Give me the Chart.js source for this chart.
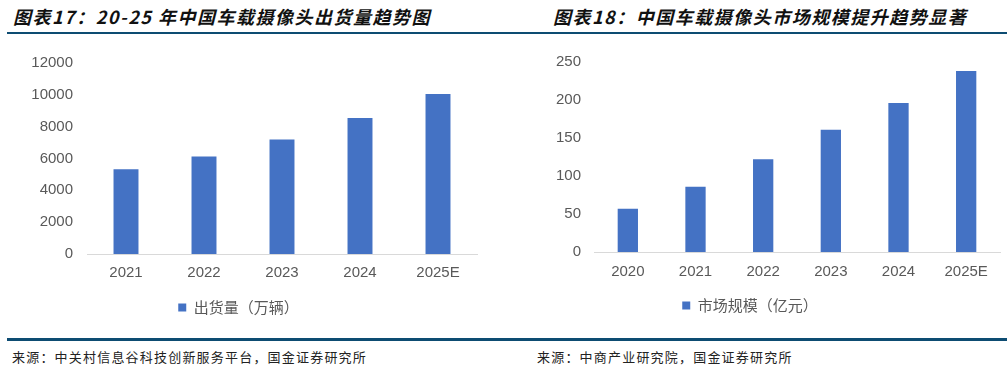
<!DOCTYPE html>
<html>
<head>
<meta charset="utf-8">
<script src="https://cdn.jsdelivr.net/npm/chart.js@4/dist/chart.umd.min.js"></script>
<style>
  html, body { margin:0; padding:0; background:#fff; }
  body { width:1007px; height:368px; position:relative; overflow:hidden; font-family:"Noto Sans CJK SC", sans-serif; }
  .title { position:absolute; top:4px; font-size:18px; font-weight:bold; font-style:italic; letter-spacing:1.5px; color:#111; white-space:nowrap; line-height:24px; }
  .rule { position:absolute; background:#0d4c72; }
  .src { position:absolute; top:348px; font-size:13px; letter-spacing:1.2px; color:#222; white-space:nowrap; line-height:18px; font-family:"Noto Sans CJK SC", serif; }
  .box { position:absolute; top:40px; height:290px; }
</style>
</head>
<body>
<div class="title" style="left:13px;">图表17：20-25 年中国车载摄像头出货量趋势图</div>
<div class="title" style="left:553px;">图表18：中国车载摄像头市场规模提升趋势显著</div>
<div class="rule" style="left:7px; top:32px; width:1000px; height:2px;"></div>
<div class="box" style="left:0; width:500px;"><canvas id="c1" width="500" height="290"></canvas></div>
<div class="box" style="left:500px; width:507px;"><canvas id="c2" width="507" height="290"></canvas></div>
<div class="rule" style="left:7px; top:338px; width:1000px; height:3px;"></div>
<div class="src" style="left:12px;">来源：中关村信息谷科技创新服务平台，国金证券研究所</div>
<div class="src" style="left:537px;">来源：中商产业研究院，国金证券研究所</div>
<script>
const shipYears = ["2021", "2022", "2023", "2024", "2025E"];
const shipValues = [5320, 6120, 7200, 8540, 10060];
const shipLabel = "出货量（万辆）";
const shipTicks = { min: 0, max: 12000, step: 2000 };

const marketYears = ["2020", "2021", "2022", "2023", "2024", "2025E"];
const marketValues = [57, 86, 122, 161, 196, 238];
const marketLabel = "市场规模（亿元）";
const marketTicks = { min: 0, max: 250, step: 50 };

const BAR = "#4472C4";
const TXT = "#595959";

function makeChart(id, labels, values, label, ticks, cfg) {
  return new Chart(document.getElementById(id), {
    type: "bar",
    data: { labels: labels, datasets: [{ label: label, data: values, backgroundColor: BAR, borderWidth: 0, barPercentage: cfg.bar, categoryPercentage: 1 }] },
    options: {
      responsive: false, animation: false,
      layout: { padding: { top: cfg.top, right: cfg.right, left: 0, bottom: cfg.bottom } },
      plugins: {
        legend: { position: "bottom", labels: { boxWidth: 8, boxHeight: 8, color: TXT, padding: 10, font: { size: 15, family: "'Noto Sans CJK SC', sans-serif" } } },
        tooltip: { enabled: false }
      },
      scales: {
        x: {
          grid: { display: false, drawTicks: false },
          border: { display: true, color: "#d9d9d9", width: 1 },
          ticks: { color: TXT, padding: cfg.xpad, font: { size: 15, family: "'Liberation Sans', Arial, sans-serif" } },
          afterFit: s => { s.height = cfg.xh; }
        },
        y: {
          min: ticks.min, max: ticks.max,
          grid: { display: false, drawTicks: false },
          border: { display: false },
          ticks: { stepSize: ticks.step, color: TXT, padding: cfg.ypad, font: { size: 15, family: "'Liberation Sans', Arial, sans-serif" }, callback: v => String(v) },
          afterFit: s => { s.width = cfg.yw; }
        }
      }
    }
  });
}

makeChart("c1", shipYears, shipValues, shipLabel, shipTicks, { bar: 0.32, top: 21, right: 23, bottom: 5, xpad: 10, xh: 36, ypad: 14, yw: 87 });
makeChart("c2", marketYears, marketValues, marketLabel, marketTicks, { bar: 0.30, top: 22, right: 7, bottom: 7, xpad: 11, xh: 36, ypad: 13, yw: 94 });
</script>
</body>
</html>
